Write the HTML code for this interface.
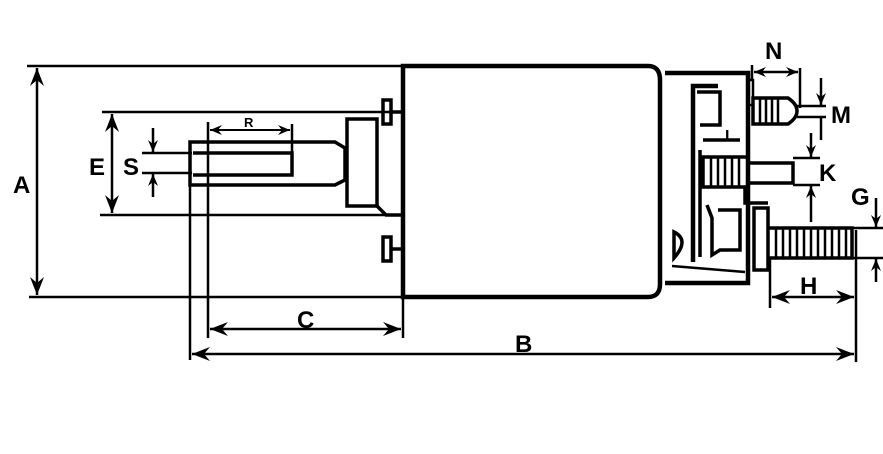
<!DOCTYPE html>
<html><head><meta charset="utf-8"><style>
html,body{margin:0;padding:0;background:#fff;width:883px;height:454px;overflow:hidden}
svg{display:block}
text{font-family:"Liberation Sans",sans-serif;font-weight:bold;fill:#000}
</style></head><body>
<svg width="883" height="454" viewBox="0 0 883 454" xmlns="http://www.w3.org/2000/svg">
<defs>
<marker id="ah" viewBox="0 0 18 14" refX="18" refY="7" markerWidth="18" markerHeight="14" markerUnits="userSpaceOnUse" orient="auto-start-reverse">
<path d="M0,0 L18,7 L0,14 L6,7 Z" fill="#000"/></marker>
<marker id="as" viewBox="0 0 12 10" refX="12" refY="5" markerWidth="12" markerHeight="10" markerUnits="userSpaceOnUse" orient="auto-start-reverse">
<path d="M0,0 L12,5 L0,10 L4,5 Z" fill="#000"/></marker>
</defs>
<g stroke="#000" fill="none" stroke-width="2.5">
<line x1="27" y1="66" x2="403" y2="66"/>
<line x1="29" y1="297" x2="403" y2="297"/>
<line x1="102" y1="112" x2="390" y2="112"/>
<line x1="100" y1="215" x2="403" y2="215"/>
<line x1="142" y1="153" x2="192" y2="153"/>
<line x1="142" y1="173" x2="192" y2="173"/>
<line x1="190" y1="185" x2="190" y2="360"/>
<line x1="208" y1="122" x2="208" y2="338"/>
<line x1="292" y1="124" x2="292" y2="153"/>
<line x1="403" y1="297" x2="403" y2="338"/>
<line x1="856" y1="230" x2="856" y2="362"/>
<line x1="770" y1="258" x2="770" y2="308"/>
<line x1="37" y1="68" x2="37" y2="295" marker-start="url(#ah)" marker-end="url(#ah)"/>
<line x1="112" y1="114" x2="112" y2="213" marker-start="url(#ah)" marker-end="url(#ah)"/>
<line x1="153" y1="128" x2="153" y2="152" marker-end="url(#as)"/>
<line x1="153" y1="197" x2="153" y2="174" marker-end="url(#as)"/>
<line x1="210" y1="130" x2="290" y2="130" stroke-width="2" marker-start="url(#as)" marker-end="url(#as)"/>
<line x1="210" y1="329" x2="401" y2="329" marker-start="url(#ah)" marker-end="url(#ah)"/>
<line x1="192" y1="354" x2="854" y2="354" marker-start="url(#ah)" marker-end="url(#ah)"/>
<line x1="772" y1="297" x2="854" y2="297" marker-start="url(#ah)" marker-end="url(#ah)"/>
<path d="M190,142 H335 L345,148 V180 L335,185 H190 Z" stroke-width="3.5"/>
<path d="M193,153 H292 V175 H193" stroke-width="3.5"/>
<path d="M347,119 H377 V206 H347 Z" stroke-width="3.5"/>
<path d="M377,206 L386,215 H403" stroke-width="3.5"/>
<rect x="383" y="100" width="8" height="24" stroke-width="3.5"/>
<line x1="391" y1="112" x2="403" y2="112" stroke-width="3.5"/>
<rect x="383" y="237" width="8" height="24" stroke-width="3.5"/>
<line x1="391" y1="249" x2="403" y2="249" stroke-width="3.5"/>
<path d="M403,66 H648 Q660,66 660,80 V284 Q660,297 648,297 H403 Z" stroke-width="4.5"/>
<path d="M665,73 H748 V283 H665" stroke-width="4.5"/>
<path d="M693,262 V86 H718" stroke-width="4.5"/>
<path d="M697,92 H720 V125 H700" stroke-width="3.5"/>
<path d="M703,140 H740 M700,150 V257" stroke-width="3.5"/>
<rect x="748" y="80" width="5" height="25" stroke-width="2.5"/>
<path d="M753,98 H788 Q797,104 797,111 Q797,118 788,124 H753 Z" stroke-width="3.5"/>
<path d="M760,99 V123 M766,99 V123 M772,99 V123 M778,99 V123" stroke-width="2.5"/>
<path d="M703,157 H748 V187 H703 Z" stroke-width="3.5"/>
<path d="M748,163 H793 V183 H748" stroke-width="3.5"/>
<path d="M711,158 V186 M718,158 V186 M725,158 V186 M732,158 V186 M739,158 V186" stroke-width="2.5"/>
<path d="M745,187 V203 H768" stroke-width="3.5"/>
<rect x="754" y="208" width="14" height="62" stroke-width="3.5"/>
<path d="M768,228 H852 V258 H768" stroke-width="3.5"/>
<path d="M776,229 V257 M783,229 V257 M790,229 V257 M797,229 V257 M804,229 V257 M811,229 V257 M818,229 V257 M825,229 V257 M832,229 V257 M839,229 V257 M846,229 V257" stroke-width="2.5"/>
<path d="M707,205 L712,218 V255 L720,250 H740 V210 H718" stroke-width="3.5"/>
<path d="M674,232 Q690,240 674,258 Z" stroke-width="3.5"/>
<path d="M672,266 L745,272" stroke-width="2.5"/>
<line x1="752" y1="65" x2="752" y2="80"/>
<line x1="800" y1="68" x2="800" y2="108"/>
<line x1="754" y1="72" x2="798" y2="72" marker-start="url(#as)" marker-end="url(#as)"/>
<line x1="797" y1="106" x2="826" y2="106"/>
<line x1="797" y1="117" x2="826" y2="117"/>
<line x1="821" y1="78" x2="821" y2="105" marker-end="url(#as)"/>
<line x1="821" y1="117" x2="821" y2="140"/>
<line x1="793" y1="158" x2="820" y2="158"/>
<line x1="793" y1="185" x2="820" y2="185"/>
<line x1="811" y1="133" x2="811" y2="157" marker-end="url(#as)"/>
<line x1="811" y1="222" x2="811" y2="186" marker-end="url(#as)"/>
<line x1="852" y1="228" x2="883" y2="228"/>
<line x1="852" y1="258" x2="883" y2="258"/>
<line x1="876" y1="198" x2="876" y2="227" marker-end="url(#as)"/>
<line x1="876" y1="282" x2="876" y2="259" marker-end="url(#as)"/>
</g>
<text x="13" y="193" font-size="24">A</text>
<text x="89" y="175" font-size="24">E</text>
<text x="123" y="175" font-size="24">S</text>
<text x="244" y="127" font-size="13">R</text>
<text x="297" y="328" font-size="24">C</text>
<text x="515" y="352" font-size="24">B</text>
<text x="800" y="294" font-size="24">H</text>
<text x="765" y="59" font-size="24">N</text>
<text x="831" y="123" font-size="24">M</text>
<text x="819" y="181" font-size="24">K</text>
<text x="851" y="205" font-size="24">G</text>
<text x="725" y="141" font-size="16">L</text>
</svg>
</body></html>
